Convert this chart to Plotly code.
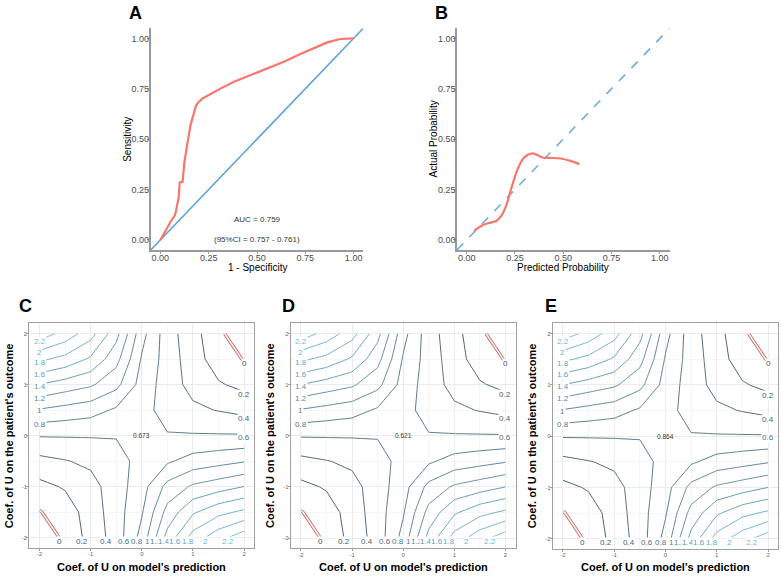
import plotly.graph_objects as go

# ---------------- data ----------------
# Panel A: ROC curve
roc_fpr = [0, 0.029, 0.055, 0.076, 0.086, 0.095, 0.100, 0.115, 0.124, 0.137, 0.155, 0.172,
           0.184, 0.196, 0.218, 0.244, 0.278, 0.313, 0.381, 0.467, 0.553, 0.639, 0.725,
           0.794, 0.863, 0.931, 1.0]
roc_tpr = [0, 0.053, 0.094, 0.123, 0.161, 0.210, 0.285, 0.288, 0.384, 0.467, 0.566, 0.624,
           0.666, 0.682, 0.702, 0.715, 0.735, 0.752, 0.785, 0.818, 0.848, 0.884, 0.922,
           0.950, 0.980, 0.997, 1.0]
auc_text = "AUC = 0.759"
ci_text = "(95%CI = 0.757 - 0.761)"

# Panel B: calibration curve
cal_pred = [0.039, 0.077, 0.111, 0.153, 0.179, 0.204, 0.230, 0.264, 0.298, 0.341, 0.366,
            0.392, 0.434, 0.486, 0.537, 0.584]
cal_actual = [0.045, 0.070, 0.083, 0.094, 0.119, 0.169, 0.252, 0.351, 0.409, 0.429, 0.421,
              0.409, 0.407, 0.404, 0.392, 0.376]

prob_ticks = [0, 0.25, 0.5, 0.75, 1.0]
prob_tick_labels = ["0.00", "0.25", "0.50", "0.75", "1.00"]
prob_range = [-0.05, 1.05]

# Panels C-E: sensitivity contour grid (rows: outcome coef, cols: prediction coef)
coef_grid = [-2, -1.5, -1, -0.5, 0, 0.5, 1, 1.5, 2]
z_grid = [
    [-0.17, 0.053, 0.27, 0.49, 0.87, 1.47, 1.883, 2.125, 2.32],
    [-0.01, 0.10, 0.29, 0.51, 0.78, 1.27, 1.57, 1.74, 1.84],
    [0.145, 0.22, 0.33, 0.505, 0.72, 1.06, 1.23, 1.31, 1.40],
    [0.342, 0.39, 0.44, 0.50, 0.69, 0.77, 0.88, 0.93, 0.984],
    [0.614, 0.615, 0.615, 0.616, 0.673, 0.616, 0.615, 0.615, 0.614],
    [0.984, 0.93, 0.88, 0.77, 0.69, 0.50, 0.44, 0.39, 0.342],
    [1.40, 1.31, 1.23, 1.06, 0.72, 0.505, 0.33, 0.22, 0.145],
    [1.84, 1.74, 1.57, 1.27, 0.78, 0.51, 0.29, 0.10, -0.01],
    [2.32, 2.125, 1.883, 1.47, 0.87, 0.49, 0.27, 0.053, -0.17],
]
contour_levels = [0, 0.2, 0.4, 0.6, 0.8, 1.0, 1.2, 1.4, 1.6, 1.8, 2.0, 2.2]
contour_labels = ["0", "0.2", "0.4", "0.6", "0.8", "1", "1.2", "1.4", "1.6", "1.8", "2", "2.2"]
center_values = ["0.673", "0.621", "0.864"]
panel_tags = ["C", "D", "E"]
coef_ticks = [-2, -1, 0, 1, 2]
coef_tick_labels = ["-2", "-1", "0", "1", "2"]
coef_range = [-2.2, 2.2]

# ---------------- style ----------------
W, H = 782, 578
FONT = "Liberation Sans, Arial, sans-serif"
LOW, HIGH = "#3b5262", "#6bbcd8"
RED = "#F8766D"
BLUE = "#5DA5DA"
AXIS_GREY = "#9a9a9a"


def hex2rgb(h):
    h = h.lstrip("#")
    return [int(h[i:i + 2], 16) for i in (0, 2, 4)]


def level_color(v):
    t = (v - contour_levels[0]) / (contour_levels[-1] - contour_levels[0])
    a, b = hex2rgb(LOW), hex2rgb(HIGH)
    c = [round(a[i] + (b[i] - a[i]) * t) for i in range(3)]
    return "rgb(%d,%d,%d)" % tuple(c)


def crossing(vals, pos, level):
    out = []
    for k in range(len(vals) - 1):
        a, b = vals[k], vals[k + 1]
        if (a - level) * (b - level) < 0 or (a == level):
            t = (level - a) / (b - a) if b != a else 0
            out.append(pos[k] + t * (pos[k + 1] - pos[k]))
    return out


def dom_x(a, b):
    return [a / W, b / W]


def dom_y(top, bottom):
    return [1 - bottom / H, 1 - top / H]


fig = go.Figure()
annotations = []

# ---------------- Panel A ----------------
fig.add_trace(go.Scatter(x=prob_range, y=prob_range, mode="lines",
                         line=dict(color=BLUE, width=1.6), xaxis="x", yaxis="y", hoverinfo="skip"))
fig.add_trace(go.Scatter(x=roc_fpr, y=roc_tpr, mode="lines",
                         line=dict(color=RED, width=2.2), xaxis="x", yaxis="y", hoverinfo="skip"))
annotations.append(dict(x=0.5, y=0.1, xref="x", yref="y", text=auc_text, showarrow=False,
                        font=dict(size=8, color="#333333", family=FONT)))
annotations.append(dict(x=0.5, y=0.0, xref="x", yref="y", text=ci_text, showarrow=False,
                        font=dict(size=8, color="#333333", family=FONT)))

# ---------------- Panel B ----------------
fig.add_trace(go.Scatter(x=prob_range, y=prob_range, mode="lines",
                         line=dict(color="#6aaed6", width=1.6, dash="dash"), xaxis="x2", yaxis="y2",
                         hoverinfo="skip"))
fig.add_trace(go.Scatter(x=cal_pred, y=cal_actual, mode="lines", line_shape="spline",
                         line=dict(color=RED, width=2.2), xaxis="x2", yaxis="y2", hoverinfo="skip"))


def prob_axis(domain, anchor):
    return dict(domain=domain, anchor=anchor, range=prob_range, tickvals=prob_ticks,
                ticktext=prob_tick_labels, showline=True, linecolor=AXIS_GREY, linewidth=1.5,
                ticks="outside", ticklen=2, tickcolor=AXIS_GREY, showgrid=False, zeroline=False,
                ticklabelstandoff=-4,
                tickfont=dict(size=9, color="#4d4d4d", family=FONT))


A_box = (150.7, 363.3, 28.3, 250)
B_box = (457.0, 669.5, 28.3, 250)
layout_axes = {}
layout_axes["xaxis"] = prob_axis(dom_x(A_box[0], A_box[1]), "y")
layout_axes["yaxis"] = prob_axis(dom_y(A_box[2], A_box[3]), "x")
layout_axes["xaxis2"] = prob_axis(dom_x(B_box[0], B_box[1]), "y2")
layout_axes["yaxis2"] = prob_axis(dom_y(B_box[2], B_box[3]), "x2")


def paper_ann(xp, yp, text, size, bold=False, angle=0, color="#000000"):
    return dict(x=xp / W, y=1 - yp / H, xref="paper", yref="paper", showarrow=False,
                text=("<b>%s</b>" % text) if bold else text, textangle=angle,
                xanchor="center", yanchor="middle",
                font=dict(size=size, color=color, family=FONT))


annotations.append(paper_ann(135, 12.5, "A", 18, bold=True))
annotations.append(paper_ann(441.7, 12.5, "B", 18, bold=True))
annotations.append(paper_ann((A_box[0] + A_box[1]) / 2, 267, "1 - Specificity", 10))
annotations.append(paper_ann(126.7, (A_box[2] + A_box[3]) / 2, "Sensitivity", 10, angle=-90))
annotations.append(paper_ann((B_box[0] + B_box[1]) / 2, 267, "Predicted Probability", 10))
annotations.append(paper_ann(433.3, (B_box[2] + B_box[3]) / 2, "Actual Probability", 10, angle=-90))

# ---------------- Panels C-E ----------------
boxes = [(29.3, 254.3, 323.3, 547.7), (290.7, 515.7, 323.3, 548.3), (552.7, 778.3, 323.3, 549.0)]
tag_pos = [(25, 306), (288.8, 306), (550.8, 306)]

left_col = [row[0] for row in z_grid]
right_col = [row[-1] for row in z_grid]
bottom_row = z_grid[0]

for p, box in enumerate(boxes):
    xa = "x%d" % (p + 3)
    ya = "y%d" % (p + 3)
    fig.add_trace(go.Contour(x=coef_grid, y=coef_grid, z=z_grid, autocontour=False,
                             contours=dict(coloring="lines", start=0.2, end=2.2, size=0.2,
                                           showlabels=False),
                             line=dict(width=0.9, smoothing=0),
                             colorscale=[[0, LOW], [1, HIGH]], zmin=0, zmax=2.2,
                             showscale=False, xaxis=xa, yaxis=ya, hoverinfo="skip"))
    fig.add_trace(go.Contour(x=coef_grid, y=coef_grid, z=z_grid, autocontour=False,
                             contours=dict(coloring="lines", start=0, end=0.1, size=0.2,
                                           showlabels=False),
                             line=dict(width=3.2, smoothing=0),
                             colorscale=[[0, "#c65a58"], [1, "#c65a58"]],
                             showscale=False, xaxis=xa, yaxis=ya, hoverinfo="skip"))
    fig.add_trace(go.Contour(x=coef_grid, y=coef_grid, z=z_grid, autocontour=False,
                             contours=dict(coloring="lines", start=0, end=0.1, size=0.2,
                                           showlabels=False),
                             line=dict(width=1.7, smoothing=0),
                             colorscale=[[0, "#fbeeee"], [1, "#fbeeee"]],
                             showscale=False, xaxis=xa, yaxis=ya, hoverinfo="skip"))

    ax_common = dict(range=coef_range, tickvals=coef_ticks, ticktext=coef_tick_labels,
                     showline=True, mirror=True, linecolor="#a0a0a0", linewidth=1,
                     ticks="outside", ticklen=2, tickcolor="#a0a0a0", ticklabelstandoff=-2,
                     showgrid=True, gridcolor="#ebebeb", gridwidth=0.8, zeroline=False,
                     minor=dict(dtick=0.5, tick0=0, showgrid=True, gridcolor="#f5f5f5", gridwidth=0.6),
                     tickfont=dict(size=6, color="#666666", family=FONT))
    layout_axes["xaxis%d" % (p + 3)] = dict(domain=dom_x(box[0], box[1]), anchor=ya, **ax_common)
    layout_axes["yaxis%d" % (p + 3)] = dict(domain=dom_y(box[2], box[3]), anchor=xa, **ax_common)

    # contour labels at the end of each piece
    for lv, lab in zip(contour_levels, contour_labels):
        col = level_color(lv)
        for yc in crossing(left_col, coef_grid, lv):
            if yc > 0:
                annotations.append(dict(x=coef_grid[0], y=yc - 0.03, xref=xa, yref=ya, text=lab,
                                        showarrow=False, bgcolor="white", borderpad=0,
                                        font=dict(size=8, color=col, family=FONT)))
        for yc in crossing(right_col, coef_grid, lv):
            if yc > 0:
                annotations.append(dict(x=coef_grid[-1], y=yc - 0.06, xref=xa, yref=ya, text=lab,
                                        showarrow=False, bgcolor="white", borderpad=0,
                                        font=dict(size=8, color=col, family=FONT)))
        for xc in crossing(bottom_row, coef_grid, lv):
            annotations.append(dict(x=xc, y=coef_grid[0] - 0.07, xref=xa, yref=ya, text=lab,
                                    showarrow=False, bgcolor="white", borderpad=0,
                                    font=dict(size=8, color=col, family=FONT)))
    annotations.append(dict(x=0, y=0, xref=xa, yref=ya, text=center_values[p], showarrow=False,
                            font=dict(size=6.5, color="#333333", family=FONT)))

    annotations.append(paper_ann(tag_pos[p][0], tag_pos[p][1], panel_tags[p], 18, bold=True))
    annotations.append(paper_ann((box[0] + box[1]) / 2, 566.7,
                                 "Coef. of U on model's prediction", 11, bold=True))
    annotations.append(paper_ann(box[0] - 20.5, (box[2] + box[3]) / 2,
                                 "Coef. of U on the patient's outcome", 11, bold=True, angle=-90))

fig.update_layout(width=W, height=H, margin=dict(l=0, r=0, t=0, b=0),
                  paper_bgcolor="white", plot_bgcolor="white", showlegend=False,
                  font=dict(family=FONT), annotations=annotations, **layout_axes)

fig.write_html("out.html", config={"displayModeBar": False},
               post_script="document.body.style.margin='0px';")
